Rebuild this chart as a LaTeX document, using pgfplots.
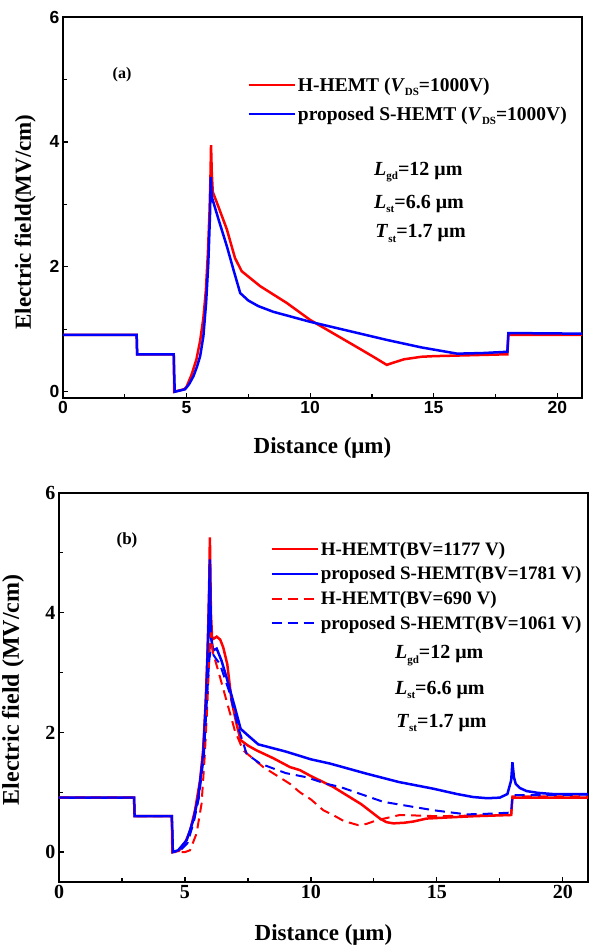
\documentclass[border=0pt]{standalone}
\usepackage{fontspec}
\setmainfont{Liberation Serif}
\newfontfamily\arialf{Liberation Sans}
\usepackage{pgfplots}
\pgfplotsset{compat=1.18}
\newcommand{\sub}[1]{\raisebox{-0.5ex}{\fontsize{11}{11}\selectfont #1}}

\pgfplotstableread{
x y
0 0.91
2.98 0.91
3.0 0.6
4.48 0.6
4.5 0.0
4.9 0.04
5.0 0.08
5.2 0.27
5.4 0.52
5.55 0.82
5.68 1.18
5.78 1.62
5.86 2.2
5.93 2.9
5.97 3.5
5.99 3.95
6.02 3.5
6.06 3.2
6.3 2.95
6.63 2.6
6.96 2.14
7.23 1.93
7.98 1.69
9.06 1.42
10.0 1.15
11.0 0.92
12.0 0.69
12.6 0.55
13.1 0.43
13.4 0.47
13.8 0.52
14.5 0.56
15 0.57
16 0.58
17 0.59
17.98 0.6
18.02 0.91
21 0.91
}\tabAred

\pgfplotstableread{
x y
0 0.91
2.98 0.91
3.0 0.6
4.48 0.6
4.52 0.0
4.94 0.04
5.1 0.12
5.28 0.25
5.42 0.4
5.55 0.57
5.68 0.89
5.79 1.42
5.88 2.06
5.95 2.86
5.98 3.44
6.02 3.12
6.3 2.75
6.63 2.33
6.9 1.95
7.17 1.58
7.5 1.46
7.91 1.37
8.51 1.28
10.0 1.12
11.5 0.98
13.1 0.83
14.5 0.71
15.95 0.61
17 0.62
17.98 0.64
18.02 0.94
21 0.93
}\tabAblue

\pgfplotstableread{
x y
0 0.91
2.98 0.91
3.0 0.6
4.48 0.6
4.5 0.0
4.75 0.02
5.0 0.15
5.2 0.35
5.4 0.7
5.6 1.2
5.72 1.7
5.82 2.5
5.9 3.4
5.96 4.4
5.99 5.26
6.03 4.0
6.08 3.55
6.26 3.6
6.4 3.55
6.52 3.42
6.68 3.14
6.85 2.53
7.05 2.14
7.21 1.87
7.5 1.78
7.84 1.70
8.5 1.57
9.17 1.42
9.56 1.37
10.0 1.27
10.88 1.09
12.0 0.8
12.74 0.56
13.0 0.50
13.27 0.48
13.7 0.49
14.06 0.51
14.59 0.56
15.5 0.58
16.5 0.6
17.95 0.62
18.0 0.91
21 0.91
}\tabBred

\pgfplotstableread{
x y
0 0.91
2.98 0.91
3.0 0.6
4.48 0.6
4.52 0.0
4.73 0.03
5.07 0.2
5.33 0.53
5.53 0.92
5.73 1.64
5.86 2.76
5.94 3.87
5.99 4.89
6.03 3.6
6.12 3.37
6.26 3.4
6.45 3.2
6.65 2.92
6.98 2.42
7.21 2.06
7.5 1.95
7.91 1.8
9.0 1.68
10.0 1.55
10.75 1.48
12.21 1.31
13.5 1.17
14.85 1.06
15.8 0.97
16.44 0.92
17.0 0.9
17.5 0.91
17.8 0.97
17.95 1.2
18.0 1.50
18.06 1.25
18.13 1.14
18.3 1.07
18.56 1.02
19.0 0.99
19.6 0.97
21 0.97
}\tabBblue

\pgfplotstableread{
x y
0 0.91
2.98 0.91
3.0 0.6
4.48 0.6
4.5 0.0
5.0 0.0
5.2 0.03
5.46 0.31
5.66 0.81
5.79 1.64
5.89 2.48
5.97 3.31
6.03 3.67
6.1 3.35
6.32 3.03
6.65 2.53
6.98 2.03
7.31 1.70
8.11 1.42
9.17 1.14
9.56 1.0
10.0 0.88
10.49 0.70
10.88 0.62
11.3 0.52
11.88 0.45
12.2 0.47
12.6 0.53
13.53 0.62
15 0.6
16.5 0.61
17.95 0.62
18.0 0.93
21 0.93
}\tabBredd

\pgfplotstableread{
x y
0 0.91
2.98 0.91
3.0 0.6
4.48 0.6
4.52 0.0
4.8 0.02
5.1 0.15
5.35 0.5
5.55 0.9
5.75 1.6
5.88 2.6
5.96 3.2
6.02 3.37
6.2 3.25
6.39 3.14
6.79 2.64
7.11 2.09
7.45 1.64
7.98 1.48
9.0 1.32
9.83 1.25
10.62 1.14
11.15 1.09
12.87 0.84
14.85 0.70
16.18 0.63
17.0 0.64
17.95 0.66
18.0 0.95
21 0.96
}\tabBblued

\pgfplotsset{
  common/.style={
    scale only axis, xmin=0, xmax=21,
    xtick={0,5,10,15,20}, ytick={0,2,4,6},
    minor x tick num=1, minor y tick num=1,
    tick pos=left, tick align=inside,
    major tick length=5pt, minor tick length=4pt,
    axis line style={line width=1.2pt},
    every tick/.style={black, line width=1.2pt},
    /pgf/number format/assume math mode=true,
    legend cell align=left,
    legend image code/.code={\draw[##1] (0pt,0pt) -- (46pt,0pt);},
  },
}

\begin{document}
\begin{tikzpicture}
\useasboundingbox (0pt,0pt) rectangle (591pt,-949pt);

% ---------------- (a)
\begin{axis}[common,
  at={(63pt,-398pt)}, anchor=south west,
  width=519pt, height=381pt,
  ymin=-0.1, ymax=6,
  tick label style={font=\arialf\bfseries\fontsize{17.5}{20}\selectfont},
  xlabel={Distance (μm)},
  ylabel={Electric field(MV/cm)},
  xlabel style={font=\bfseries\fontsize{23}{26}\selectfont, at={(axis description cs:0.5,-0.13)}, anchor=center},
  ylabel style={font=\bfseries\fontsize{23}{26}\selectfont, at={(axis description cs:-0.073,0.462)}, anchor=center},
  legend style={at={(0.355,0.847)}, anchor=north west, draw=none, fill=none,
    inner sep=0pt, row sep=10pt, font=\bfseries\fontsize{19.5}{22}\selectfont},
]
\addplot[red, line width=2.5pt] table {\tabAred};
\addlegendentry{H-HEMT (\textit{V}\sub{DS}=1000V)}
\addplot[blue, line width=2.5pt] table {\tabAblue};
\addlegendentry{proposed S-HEMT (\textit{V}\sub{DS}=1000V)}
\node[font=\bfseries\fontsize{16}{19}\selectfont] at (axis cs:2.39,5.07) {(a)};
\node[anchor=west, font=\bfseries\fontsize{20}{24}\selectfont] at (axis cs:12.45,3.52) {\textit{L}\sub{gd}=12 μm};
\node[anchor=west, font=\bfseries\fontsize{20}{24}\selectfont] at (axis cs:12.45,3.01) {\textit{L}\sub{st}=6.6 μm};
\node[anchor=west, font=\bfseries\fontsize{20}{24}\selectfont] at (axis cs:12.5,2.53) {\textit{T}\sub{st}=1.7 μm};
\end{axis}

% ---------------- (b)
\begin{axis}[common,
  at={(59pt,-882pt)}, anchor=south west,
  width=529pt, height=389pt,
  ymin=-0.5, ymax=6,
  tick label style={font=\bfseries\fontsize{20}{24}\selectfont},
  xlabel={Distance (μm)},
  ylabel={Electric field (MV/cm)},
  xlabel style={font=\bfseries\fontsize{23}{26}\selectfont, at={(axis description cs:0.5,-0.136)}, anchor=center},
  ylabel style={font=\bfseries\fontsize{24}{27}\selectfont, at={(axis description cs:-0.087,0.494)}, anchor=center},
  legend style={at={(0.399,0.880)}, anchor=north west, draw=none, fill=none,
    inner sep=0pt, row sep=6pt, font=\bfseries\fontsize{19}{22}\selectfont},
]
\addplot[red, line width=2.5pt] table {\tabBred};
\addlegendentry{H-HEMT(BV=1177 V)}
\addplot[blue, line width=2.5pt] table {\tabBblue};
\addlegendentry{proposed S-HEMT(BV=1781 V)}
\addplot[color=red, line width=2pt, dash pattern=on 10pt off 6pt] table {\tabBredd};
\addlegendentry{H-HEMT(BV=690 V)}
\addplot[color=blue, line width=2pt, dash pattern=on 10pt off 6pt] table {\tabBblued};
\addlegendentry{proposed S-HEMT(BV=1061 V)}
\node[font=\bfseries\fontsize{17}{20}\selectfont] at (axis cs:2.70,5.2) {(b)};
\node[anchor=west, font=\bfseries\fontsize{20}{24}\selectfont] at (axis cs:13.2,3.28) {\textit{L}\sub{gd}=12 μm};
\node[anchor=west, font=\bfseries\fontsize{20}{24}\selectfont] at (axis cs:13.2,2.71) {\textit{L}\sub{st}=6.6 μm};
\node[anchor=west, font=\bfseries\fontsize{20}{24}\selectfont] at (axis cs:13.25,2.16) {\textit{T}\sub{st}=1.7 μm};
\end{axis}
\end{tikzpicture}
\end{document}
